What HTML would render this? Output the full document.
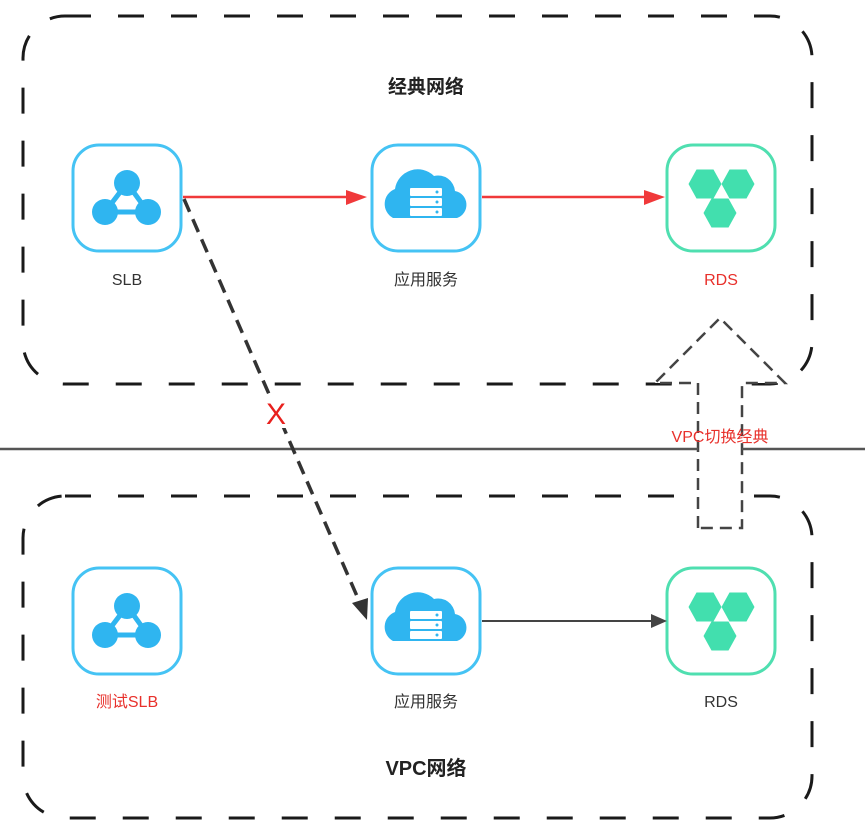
<!DOCTYPE html>
<html><head><meta charset="utf-8"><style>
html,body{margin:0;padding:0;background:#fff;}
svg{display:block;}
text{font-family:"Liberation Sans","Noto Sans CJK SC",sans-serif;}
</style></head><body>
<svg width="865" height="838" viewBox="0 0 865 838" xmlns="http://www.w3.org/2000/svg">
<defs>
<g id="slb">
  <rect x="-54" y="-53" width="108" height="106" rx="26" fill="#fff" stroke="#45c3f4" stroke-width="3"/>
  <path d="M0,-15 L-22,14 L21,14 Z" fill="none" stroke="#2fb5f0" stroke-width="5"/>
  <circle cx="0" cy="-15" r="13" fill="#2fb5f0"/>
  <circle cx="-22" cy="14" r="13" fill="#2fb5f0"/>
  <circle cx="21" cy="14" r="13" fill="#2fb5f0"/>
</g>
<g id="app">
  <rect x="-54" y="-53" width="108" height="106" rx="26" fill="#fff" stroke="#45c3f4" stroke-width="3"/>
  <path d="M-33,20 A16,16 0 0 1 -31,-9 A23,23 0 0 1 8,-22 A17,17 0 0 1 29,-7 A14,14 0 0 1 31,20 Z" fill="#2fb5f0"/>
  <rect x="-16" y="-10" width="32" height="8" rx="1" fill="#fff"/>
  <rect x="-16" y="0" width="32" height="8" rx="1" fill="#fff"/>
  <rect x="-16" y="10" width="32" height="8" rx="1" fill="#fff"/>
  <circle cx="11" cy="-6" r="1.5" fill="#2fb5f0"/><circle cx="11" cy="4" r="1.5" fill="#2fb5f0"/><circle cx="11" cy="14" r="1.5" fill="#2fb5f0"/>
</g>
<g id="hex"><polygon points="-16.5,0 -8.5,-14.5 8.5,-14.5 16.5,0 8.5,14.5 -8.5,14.5" fill="#42dfae"/></g>
<g id="rds">
  <rect x="-54" y="-53" width="108" height="106" rx="26" fill="#fff" stroke="#4fdfb0" stroke-width="3"/>
  <use href="#hex" x="-16" y="-14"/>
  <use href="#hex" x="17" y="-14"/>
  <use href="#hex" x="-1" y="15"/>
</g>
</defs>

<rect x="23" y="16" width="789" height="368" rx="42" fill="none" stroke="#1a1a1a" stroke-width="3" stroke-dasharray="26 27"/>
<rect x="23" y="496" width="789" height="322" rx="42" fill="none" stroke="#1a1a1a" stroke-width="3" stroke-dasharray="26 27"/>
<path d="M698,528 L698,383 L655,383 L720,318 L785,383 L742,383 L742,528 Z" fill="#fff" stroke="#444" stroke-width="2.5" stroke-dasharray="12 7"/>
<line x1="0" y1="449" x2="698" y2="449" stroke="#555" stroke-width="2.5"/>
<line x1="742" y1="449" x2="865" y2="449" stroke="#555" stroke-width="2.5"/>

<text x="426" y="93" font-size="19" font-weight="bold" text-anchor="middle" fill="#222">经典网络</text>
<text x="426" y="775" font-size="20" font-weight="bold" text-anchor="middle" fill="#222">VPC网络</text>

<use href="#slb" x="127" y="198"/>
<use href="#app" x="426" y="198"/>
<use href="#rds" x="721" y="198"/>
<use href="#slb" x="127" y="621"/>
<use href="#app" x="426" y="621"/>
<use href="#rds" x="721" y="621"/>

<line x1="183" y1="197" x2="350" y2="197" stroke="#f0393a" stroke-width="2.5"/>
<path d="M346,190 L367,197 L346,205 Z" fill="#f0393a"/>
<line x1="482" y1="197" x2="648" y2="197" stroke="#f0393a" stroke-width="2.5"/>
<path d="M644,190 L665,197 L644,205 Z" fill="#f0393a"/>
<line x1="482" y1="621" x2="655" y2="621" stroke="#444" stroke-width="2"/>
<path d="M651,614 L667,621 L651,628 Z" fill="#444"/>
<line x1="184" y1="199" x2="360" y2="603" stroke="#333" stroke-width="3.5" stroke-dasharray="14 8"/>
<path d="M352,603 L368,598 L367,620 Z" fill="#333"/>
<rect x="262" y="394" width="30" height="34" fill="#fff"/>
<text x="276" y="424" font-size="30" text-anchor="middle" fill="#e8201d">X</text>

<text x="127" y="285" font-size="16" text-anchor="middle" fill="#333">SLB</text>
<text x="426" y="285" font-size="16" text-anchor="middle" fill="#333">应用服务</text>
<text x="721" y="285" font-size="16" text-anchor="middle" fill="#e8302b">RDS</text>
<text x="127" y="707" font-size="16" text-anchor="middle" fill="#e8302b">测试SLB</text>
<text x="426" y="707" font-size="16" text-anchor="middle" fill="#333">应用服务</text>
<text x="721" y="707" font-size="16" text-anchor="middle" fill="#333">RDS</text>
<text x="720" y="442" font-size="16" text-anchor="middle" fill="#e8302b">VPC切换经典</text>
</svg>
</body></html>
